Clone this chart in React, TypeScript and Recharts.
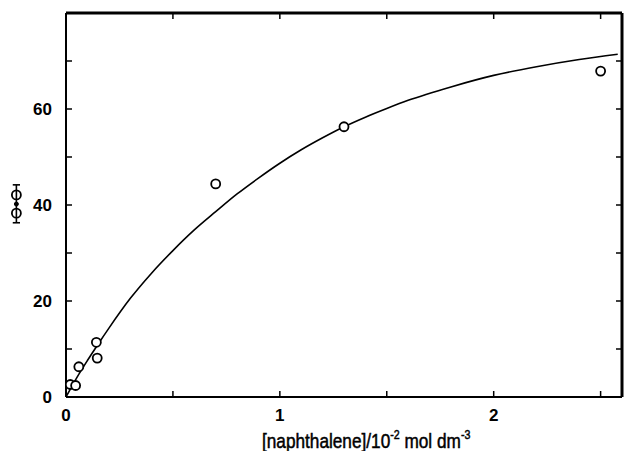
import React from 'react';
import { ComposedChart, Line, Scatter, XAxis, YAxis, ReferenceDot, ReferenceLine } from 'recharts';

// fitted curve
const curveX = [0, 0.05, 0.1, 0.15, 0.2, 0.3, 0.4, 0.5, 0.6, 0.7, 0.8, 0.9, 1.0, 1.1, 1.2, 1.3, 1.4, 1.5, 1.6, 1.8, 2.0, 2.2, 2.4, 2.58];
const curveY = [0, 4.0, 7.6, 11.0, 14.3, 20.5, 25.8, 30.5, 34.8, 38.6, 42.3, 45.6, 48.7, 51.5, 54.0, 56.3, 58.3, 60.1, 61.8, 64.6, 67.0, 68.8, 70.3, 71.4];

// measured points (open circles)
const pointX = [0.02, 0.045, 0.06, 0.146, 0.142, 0.70, 1.30, 2.50];
const pointY = [2.6, 2.4, 6.3, 8.1, 11.4, 44.4, 56.3, 67.9];

// value with error bar drawn left of the axis
const limitX = -0.232;
const limitCircles = [42.1, 38.3];
const limitMean = 40.2;
const limitErr = [36.3, 44.2];

const xDomain = [0, 2.6];
const yDomain = [0, 80];
const xTicks = [0, 0.5, 1, 1.5, 2, 2.5];
const xTickLabels = ['0', '', '1', '', '2', ''];
const yTicks = [0, 10, 20, 30, 40, 50, 60, 70];
const yTickLabels = ['0', '', '20', '', '40', '', '60', ''];

const curve = curveX.map((x, i) => ({ x, y: curveY[i] }));
const points = pointX.map((x, i) => ({ x, y: pointY[i] }));

const FONT = '"Liberation Sans", Arial, sans-serif';
const TICK_LEN = 6;

const XTick = (props: any) => {
  const label = xTickLabels[xTicks.indexOf(props.payload.value)] || '';
  return (
    <text x={props.x} y={props.y} dy="0.71em" textAnchor="middle" fontFamily={FONT} fontWeight="bold" fontSize={17} fill="#000">
      {label}
    </text>
  );
};

const YTick = (props: any) => {
  const label = yTickLabels[yTicks.indexOf(props.payload.value)] || '';
  return (
    <text x={props.x} y={props.y} dy="0.355em" textAnchor="end" fontFamily={FONT} fontWeight="bold" fontSize={17} fill="#000">
      {label}
    </text>
  );
};

const VTicks = (p: any) => {
  const top = Math.min(p.y1, p.y2);
  const bot = Math.max(p.y1, p.y2);
  return (
    <g>
      <line x1={p.x1} x2={p.x1} y1={top} y2={top + TICK_LEN} stroke="#000" strokeWidth={1.5} />
      <line x1={p.x1} x2={p.x1} y1={bot} y2={bot - TICK_LEN} stroke="#000" strokeWidth={1.5} />
    </g>
  );
};

const HTicks = (p: any) => {
  const l = Math.min(p.x1, p.x2);
  const r = Math.max(p.x1, p.x2);
  return (
    <g>
      <line x1={l} x2={l + TICK_LEN} y1={p.y1} y2={p.y1} stroke="#000" strokeWidth={1.5} />
      <line x1={r} x2={r - TICK_LEN} y1={p.y1} y2={p.y1} stroke="#000" strokeWidth={1.5} />
    </g>
  );
};

const XLabel = () => (
  <text transform="translate(262,448) scale(0.82,1)" fontFamily={FONT} fontSize={21} fill="#000" stroke="#000" strokeWidth={0.5}>
    <tspan>[naphthalene]/10</tspan>
    <tspan dy={-9} fontSize={13}>-2</tspan>
    <tspan dy={9}>{'  mol dm'}</tspan>
    <tspan dy={-9} fontSize={13}>-3</tspan>
  </text>
);

const Circle = (p: any) => (
  <circle cx={p.cx} cy={p.cy} r={4.5} fill="#fff" stroke="#000" strokeWidth={1.8} />
);

export default function App() {
  const capW = 0.017;
  return (
    <div style={{ position: 'absolute', left: 0, top: 0, background: '#fff' }}>
      <ComposedChart width={625} height={451} margin={{ top: 13, right: 3, left: 0, bottom: 0 }}>
        <XAxis
          dataKey="x"
          type="number"
          domain={xDomain}
          allowDataOverflow
          ticks={xTicks}
          interval={0}
          height={54}
          tickSize={0}
          tickMargin={12}
          tick={<XTick />}
          tickLine={false}
          axisLine={false}
          label={<XLabel />}
        />
        <YAxis
          type="number"
          domain={yDomain}
          allowDataOverflow
          ticks={yTicks}
          interval={0}
          width={66}
          tickSize={0}
          tickMargin={14}
          tick={<YTick />}
          tickLine={false}
          axisLine={false}
        />
        <ReferenceLine x={xDomain[0]} stroke="#000" strokeWidth={2} ifOverflow="visible" />
        <ReferenceLine y={yDomain[0]} stroke="#000" strokeWidth={2} ifOverflow="visible" />
        <ReferenceLine x={xDomain[1]} stroke="#000" strokeWidth={3} ifOverflow="visible" />
        <ReferenceLine y={yDomain[1]} stroke="#000" strokeWidth={3} ifOverflow="visible" />
        {xTicks.filter((t) => t > 0).map((t) => (
          <ReferenceLine key={'x' + t} x={t} shape={<VTicks />} ifOverflow="visible" />
        ))}
        {yTicks.filter((t) => t > 0).map((t) => (
          <ReferenceLine key={'y' + t} y={t} shape={<HTicks />} ifOverflow="visible" />
        ))}
        <Line
          data={curve}
          dataKey="y"
          type="monotone"
          stroke="#000"
          strokeWidth={1.6}
          dot={false}
          activeDot={false}
          isAnimationActive={false}
        />
        <Scatter data={points} dataKey="y" shape={<Circle />} isAnimationActive={false} />
        <ReferenceLine
          segment={[{ x: limitX, y: limitErr[0] }, { x: limitX, y: limitErr[1] }]}
          stroke="#000"
          strokeWidth={1.6}
          ifOverflow="visible"
        />
        <ReferenceLine
          segment={[{ x: limitX - capW, y: limitErr[0] }, { x: limitX + capW, y: limitErr[0] }]}
          stroke="#000"
          strokeWidth={1.6}
          ifOverflow="visible"
        />
        <ReferenceLine
          segment={[{ x: limitX - capW, y: limitErr[1] }, { x: limitX + capW, y: limitErr[1] }]}
          stroke="#000"
          strokeWidth={1.6}
          ifOverflow="visible"
        />
        {limitCircles.map((v, i) => (
          <ReferenceDot key={i} x={limitX} y={v} r={4.5} fill="none" stroke="#000" strokeWidth={1.8} ifOverflow="visible" />
        ))}
        <ReferenceDot x={limitX} y={limitMean} r={2} fill="#000" stroke="#000" ifOverflow="visible" />
      </ComposedChart>
    </div>
  );
}
